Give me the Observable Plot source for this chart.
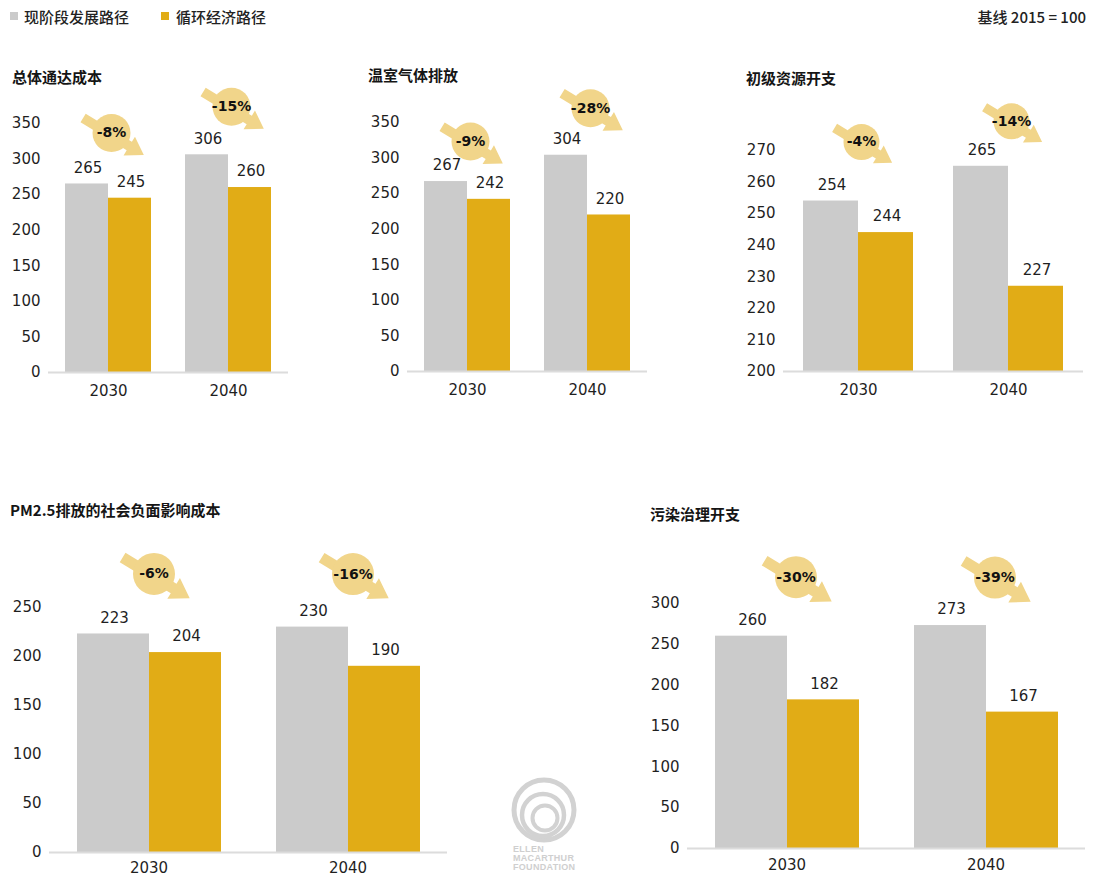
<!DOCTYPE html>
<html><head><meta charset="utf-8">
<script src="https://cdn.jsdelivr.net/npm/d3@7"></script>
<script src="https://cdn.jsdelivr.net/npm/@observablehq/plot@0.6"></script>
<style>
html,body{margin:0;padding:0;background:#fff;}
body{width:1094px;height:878px;position:relative;overflow:hidden;font-family:"Noto Sans CJK SC","Noto Sans",sans-serif;color:#1a1a1a;}
.abs{position:absolute;}
.title{font-weight:700;font-size:15px;line-height:15px;white-space:nowrap;color:#151515;}
.leg{font-size:15px;line-height:15px;font-weight:500;white-space:nowrap;color:#222;}
.sw{width:8px;height:8px;}
</style></head><body>
<script>
// ---------- data ----------
const years = ["2030", "2040"];
const seriesNames = ["现阶段发展路径", "循环经济路径"];
const seriesColors = ["#cbcbcb", "#e1ac16"];
const panelTitles = ["总体通达成本", "温室气体排放", "初级资源开支", "PM2.5排放的社会负面影响成本", "污染治理开支"];
const currentPath = [[265, 306], [267, 304], [254, 265], [223, 230], [260, 273]];
const circularPath = [[245, 260], [242, 220], [244, 227], [204, 190], [182, 167]];
const changeLabels = [["-8%", "-15%"], ["-9%", "-28%"], ["-4%", "-14%"], ["-6%", "-16%"], ["-30%", "-39%"]];
const yDomains = [[0, 350], [0, 350], [200, 270], [0, 250], [0, 300]];
const yTickValues = [
  [0, 50, 100, 150, 200, 250, 300, 350],
  [0, 50, 100, 150, 200, 250, 300, 350],
  [200, 210, 220, 230, 240, 250, 260, 270],
  [0, 50, 100, 150, 200, 250],
  [0, 50, 100, 150, 200, 250, 300]
];
const baselineNote = "基线 2015 = 100";
const logoLines = ["ELLEN", "MACARTHUR", "FOUNDATION"];

// ---------- layout (positions / styles only) ----------
const badgeColor = "#f1d58a";
const layout = [
  {left: 0,   top: 88,  width: 290, height: 314, ml: 48, mt: 35, mb: 30, po: 0.364, tx: 12,  ty: 77,  bdy: [-51, -48], bdx: 3, r: 19, tp: 13},
  {left: 360, top: 88,  width: 289, height: 313, ml: 47, mt: 34, mb: 30, po: 0.364, tx: 368, ty: 75,  bdy: [-40, -47], bdx: 3, r: 19, tp: 13},
  {left: 730, top: 88,  width: 355, height: 313, ml: 53, mt: 62, mb: 30, po: 0.36,  tx: 746, ty: 78,  bdy: [-59, -45], bdx: 3, r: 18, tp: 13},
  {left: 0,   top: 540, width: 449, height: 336, ml: 49, mt: 67, mb: 24, po: 0.372, tx: 10,  ty: 510, bdy: [-60, -53], bdx: 5, r: 21, tp: 10},
  {left: 640, top: 540, width: 447, height: 332, ml: 47, mt: 63, mb: 24, po: 0.372, tx: 650, ty: 514, bdy: [-59, -48], bdx: 9, r: 21, tp: 11}
];

// arrow shape drawn as a custom dot symbol (scaled by r)
const arrowSymbol = {
  draw(context, size) {
    const k = Math.sqrt(size / Math.PI) / 19;
    const a = Math.atan2(37, 61), c = Math.cos(a), s = Math.sin(a);
    const pts = [[-32, -5], [22, -5], [22, -11], [39, 0], [22, 11], [22, 5], [-32, 5]];
    pts.forEach(([t, v], i) => {
      v += 2;
      const x = (t * c - v * s) * k, y = (t * s + v * c) * k;
      if (i === 0) context.moveTo(x, y); else context.lineTo(x, y);
    });
    context.closePath();
  }
};

function el(tag, cls, css, text) {
  const e = document.createElement(tag);
  if (cls) e.className = cls;
  Object.assign(e.style, css);
  if (text != null) e.textContent = text;
  document.body.appendChild(e);
  return e;
}

// ---------- legend & note ----------
el("div", "abs sw", {left: "10px", top: "12px", background: seriesColors[0]});
el("div", "abs leg", {left: "24px", top: "9px"}, seriesNames[0]);
el("div", "abs sw", {left: "161px", top: "12px", background: seriesColors[1]});
el("div", "abs leg", {left: "176px", top: "9px"}, seriesNames[1]);
el("div", "abs leg", {right: "8px", top: "9px"}, baselineNote);

// ---------- panels ----------
panelTitles.forEach((title, p) => {
  const L = layout[p];
  const [dmin] = yDomains[p];
  const rows = [];
  years.forEach((yr, i) => {
    rows.push({year: yr, series: seriesNames[0], value: currentPath[p][i], change: changeLabels[p][i]});
    rows.push({year: yr, series: seriesNames[1], value: circularPath[p][i], change: changeLabels[p][i]});
  });

  el("div", "abs title", {left: L.tx + "px", top: (L.ty - 8) + "px"}, title);

  const badgeMarks = years.flatMap((yr, i) => {
    const f = d => d.series === seriesNames[0] && d.year === yr;
    return [
      Plot.dot(rows, {filter: f, y: "value", dy: L.bdy[i], dx: L.bdx, r: L.r, symbol: arrowSymbol, fill: badgeColor, stroke: null}),
      Plot.dot(rows, {filter: f, y: "value", dy: L.bdy[i], dx: L.bdx, r: L.r, fill: badgeColor, stroke: null}),
      Plot.text(rows, {filter: f, y: "value", dy: L.bdy[i], dx: L.bdx, text: "change", fontSize: 14, fontWeight: "bold", fill: "#111"})
    ];
  });

  const chart = Plot.plot({
    width: L.width,
    height: L.height,
    marginLeft: L.ml,
    marginRight: 2,
    marginTop: L.mt,
    marginBottom: L.mb,
    style: {fontFamily: "'DejaVu Sans', sans-serif", fontSize: "15px", color: "#1f1f1f", background: "transparent", overflow: "visible"},
    facet: {data: rows, x: "year"},
    fx: {domain: years, padding: 0, axis: "bottom", tickSize: 0, tickPadding: L.tp, label: null},
    x: {domain: seriesNames, axis: null, paddingInner: 0, paddingOuter: L.po},
    y: {domain: yDomains[p], ticks: yTickValues[p], tickSize: 0, tickPadding: 8, label: null},
    color: {domain: seriesNames, range: seriesColors},
    marks: [
      Plot.barY(rows, {x: "series", y1: dmin, y2: "value", fill: "series"}),
      Plot.ruleY([dmin], {stroke: "#dcdcdc", strokeWidth: 2}),
      Plot.text(rows, {x: "series", y: "value", text: d => String(d.value), dy: -16, dx: 1, fontSize: 15, fill: "#1f1f1f"}),
      ...badgeMarks
    ]
  });
  const wrap = el("div", "abs", {left: L.left + "px", top: L.top + "px"});
  wrap.appendChild(chart);
});

// ---------- logo (decoration) ----------
const ns = "http://www.w3.org/2000/svg";
const logo = document.createElementNS(ns, "svg");
logo.setAttribute("width", "90"); logo.setAttribute("height", "105");
Object.assign(logo.style, {position: "absolute", left: "500px", top: "770px"});
[[44, 40, 30, 5], [43, 45, 21, 4.5], [45, 48, 12.5, 4]].forEach(([cx, cy, r, sw]) => {
  const c = document.createElementNS(ns, "circle");
  c.setAttribute("cx", cx); c.setAttribute("cy", cy); c.setAttribute("r", r);
  c.setAttribute("fill", "none"); c.setAttribute("stroke", "#d2d2d2"); c.setAttribute("stroke-width", sw);
  logo.appendChild(c);
});
logoLines.forEach((t, i) => {
  const tx = document.createElementNS(ns, "text");
  tx.setAttribute("x", 13); tx.setAttribute("y", 82 + i * 9);
  tx.setAttribute("font-family", "'Liberation Sans', sans-serif");
  tx.setAttribute("font-size", "9"); tx.setAttribute("font-weight", "bold");
  tx.setAttribute("letter-spacing", "0.3"); tx.setAttribute("fill", "#cfcfcf");
  tx.textContent = t;
  logo.appendChild(tx);
});
document.body.appendChild(logo);
</script>
</body></html>
